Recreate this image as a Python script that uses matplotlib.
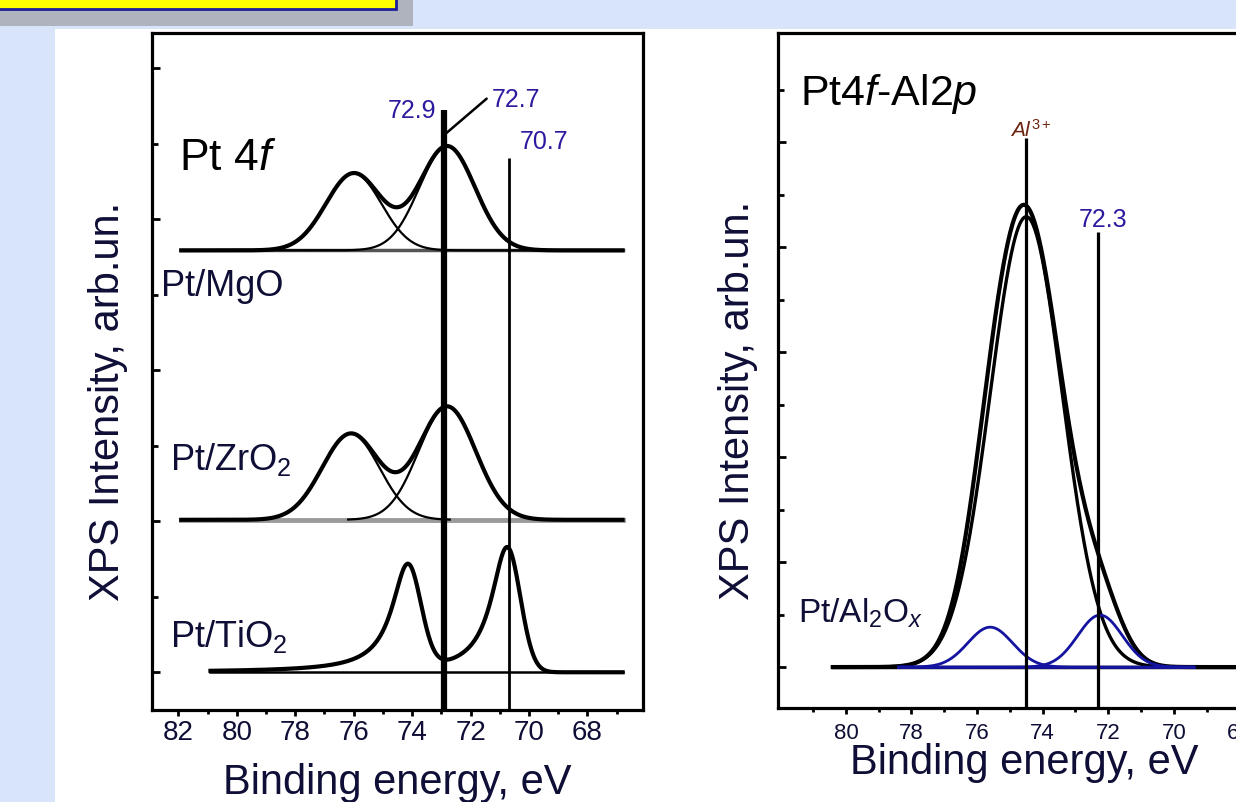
import matplotlib
matplotlib.use('Agg')
import matplotlib.pyplot as plt
from matplotlib.patches import Rectangle
import numpy as np

plt.rcParams['font.family'] = ['Liberation Sans', 'DejaVu Sans']
plt.rcParams['mathtext.fontset'] = 'custom'
plt.rcParams['mathtext.rm'] = 'Liberation Sans'
plt.rcParams['mathtext.it'] = 'Liberation Sans:italic'

TXT = '#0e0e36'
PEAK = '#2c1a9e'
BLUE = '#1414a0'

# ---- left panel: Pt 4f for Pt/MgO, Pt/ZrO2, Pt/TiO2 ----
left_lim = (82.9, 66.1)
left_ticks = [82, 80, 78, 76, 74, 72, 70, 68]

mgo_base = 6.09
mgo_pos = [72.8, 76.0]      # 4f7/2, 4f5/2
mgo_amp = [1.38, 1.02]
mgo_sig = 0.95

zro_base = 2.52
zro_pos = [72.8, 76.1]
zro_amp = [1.5, 1.14]
zro_sig = 0.98

tio_base = 0.5
tio_pos = [70.75, 74.15]
tio_amp = [1.66, 1.38]
tio_tail = 0.65     # lorentz half width, high BE side
tio_edge = 0.45     # gauss sigma, low BE side

left_marks = [72.9, 70.7]
left_mark_tops = [7.95, 7.32]

# ---- right panel: Pt4f-Al2p for Pt/Al2Ox ----
right_lim = (82.07, 66.0)
right_ticks = [80, 78, 76, 74, 72, 70, 68]

al_pos, al_amp, al_sig = 74.5, 8.58, 1.1
pt_al_pos = [72.25, 75.6]
pt_al_amp = [0.99, 0.76]
pt_al_sig = 0.68

right_marks = [74.5, 72.3]
right_mark_tops = [10.08, 8.29]


def gauss(x, c, a, s):
    return a * np.exp(-(x - c) ** 2 / (2 * s * s))


def pt_metal(x, c, a):
    # asymmetric line: lorentz tail to high BE, gaussian edge to low BE
    lor = a / (1 + ((x - c) / tio_tail) ** 2)
    gau = a * np.exp(-(x - c) ** 2 / (2 * tio_edge ** 2))
    return np.where(x > c, lor, gau)


W, H = 1236, 802
fig = plt.figure(figsize=(W / 100, H / 100), dpi=100)
fig.patch.set_facecolor('#d8e4fa')


def frect(x0, y0, x1, y1, **kw):
    # rectangle in pixel coords (top-left origin)
    return Rectangle((x0 / W, 1 - y1 / H), (x1 - x0) / W, (y1 - y0) / H,
                     transform=fig.transFigure, zorder=-5, **kw)


fig.patches.append(frect(55, 29, W, H, facecolor='white', edgecolor='none'))
fig.patches.append(frect(0, 0, 413, 26, facecolor='#aeb3bd', edgecolor='none'))
fig.patches.append(frect(-10, -10, 396, 9, facecolor='#ffff00', edgecolor='#1e1e9a', lw=2))


def style(ax, xlab_size, pad):
    for s in ax.spines.values():
        s.set_linewidth(2.3)
    ax.tick_params(axis='x', which='major', direction='out', length=4.5, width=2,
                   labelsize=xlab_size, labelcolor=TXT, pad=pad)
    ax.tick_params(axis='x', which='minor', direction='out', length=2.8, width=2)
    ax.tick_params(axis='y', which='major', direction='in', length=6, width=2, labelleft=False)
    ax.tick_params(axis='y', which='minor', direction='in', length=4, width=2)


# ================= left =================
ax = fig.add_axes([152 / W, 1 - 710 / H, (643 - 152) / W, (710 - 33) / H])
ax.set_xlim(*left_lim)
ax.set_ylim(0, 8.97)
ax.set_xticks(left_ticks)
ax.set_xticks([81, 79, 77, 75, 73, 71, 69, 67], minor=True)
ax.set_yticks([0.5, 2.5, 4.5, 6.5, 8.5])
ax.set_yticks([1.5, 3.5, 5.5, 7.5], minor=True)
style(ax, 20, 3)

e = np.linspace(81.9, 66.8, 900)

# Pt/MgO
ax.plot(e, np.full_like(e, mgo_base), color='#555555', lw=2.5)
comps = [gauss(e, c, a, mgo_sig) for c, a in zip(mgo_pos, mgo_amp)]
for cp in comps:
    ax.plot(e, mgo_base + cp, color='k', lw=1.6)
ax.plot(e, mgo_base + comps[0] + comps[1], color='k', lw=3)

# Pt/ZrO2
ax.plot(e, np.full_like(e, zro_base), color='#9a9a9a', lw=3.5)
comps = [gauss(e, c, a, zro_sig) for c, a in zip(zro_pos, zro_amp)]
m1 = e <= 76.2
m2 = e >= 72.7
ax.plot(e[m1], zro_base + comps[0][m1], color='k', lw=1.6)
ax.plot(e[m2], zro_base + comps[1][m2], color='k', lw=1.6)
ax.plot(e, zro_base + comps[0] + comps[1], color='k', lw=3)

# Pt/TiO2
et = np.linspace(80.9, 66.8, 900)
ax.plot(et, np.full_like(et, tio_base), color='k', lw=1.8)
env = sum(pt_metal(et, c, a) for c, a in zip(tio_pos, tio_amp))
ax.plot(et, tio_base + env, color='k', lw=3)

ax.vlines(left_marks[0], 0, left_mark_tops[0], color='k', lw=4.5)
ax.vlines(left_marks[1], 0, left_mark_tops[1], color='k', lw=2)
ax.annotate('', xy=(71.45, 8.1), xytext=(72.9, 7.62),
            arrowprops=dict(arrowstyle='-', color='k', lw=1.8, shrinkA=0, shrinkB=0))

ax.text(74.0, 7.84, '72.9', color=PEAK, fontsize=18, ha='center', va='baseline')
ax.text(71.28, 7.99, '72.7', color=PEAK, fontsize=18, ha='left', va='baseline')
ax.text(69.47, 7.43, '70.7', color=PEAK, fontsize=18, ha='center', va='baseline')

ax.text(81.97, 7.15, r'Pt 4$\mathit{f}$', color='k', fontsize=32, ha='left', va='baseline')
ax.text(82.6, 5.48, 'Pt/MgO', color=TXT, fontsize=26, ha='left', va='baseline')
ax.text(82.27, 3.18, r'Pt/ZrO$_2$', color=TXT, fontsize=26, ha='left', va='baseline')
ax.text(82.27, 0.83, r'Pt/TiO$_2$', color=TXT, fontsize=26, ha='left', va='baseline')

ax.set_xlabel('Binding energy, eV', fontsize=30, color=TXT)
ax.xaxis.set_label_coords(0.50, -0.108)
ax.xaxis.label.set_va('center')
ax.set_ylabel('XPS Intensity, arb.un.', fontsize=30, color=TXT)
ax.yaxis.set_label_coords(-0.0896, 0.456)
ax.yaxis.label.set_va('center')

# ================= right =================
ax2 = fig.add_axes([778 / W, 1 - 708 / H, 527 / W, (708 - 33) / H])
ax2.set_xlim(*right_lim)
ax2.set_ylim(-0.78, 12.08)
ax2.set_xticks(right_ticks)
ax2.set_xticks([81, 79, 77, 75, 73, 71, 69, 67], minor=True)
ax2.set_yticks([0, 2, 4, 6, 8, 10])
ax2.set_yticks([1, 3, 5, 7, 9, 11], minor=True)
style(ax2, 16, 6)

ea = np.linspace(80.4, 66.0, 900)
al = gauss(ea, al_pos, al_amp, al_sig)
pts = sum(gauss(ea, c, a, pt_al_sig) for c, a in zip(pt_al_pos, pt_al_amp))
ax2.plot(ea, np.zeros_like(ea), color='k', lw=2.5)
ax2.plot(ea, al, color='k', lw=2.4)
ax2.plot(ea, al + pts, color='k', lw=3)

eb = np.linspace(78.4, 69.4, 600)
ax2.plot(eb, np.zeros_like(eb), color=BLUE, lw=2)
for c, a in zip(pt_al_pos, pt_al_amp):
    ax2.plot(eb, gauss(eb, c, a, pt_al_sig), color=BLUE, lw=2)

ax2.vlines(right_marks[0], -0.78, right_mark_tops[0], color='k', lw=2.3)
ax2.vlines(right_marks[1], -0.78, right_mark_tops[1], color='k', lw=2.3)

ax2.text(74.35, 10.11, r'$\mathit{Al}^{3+}$', color='#6b2410', fontsize=15, ha='center', va='baseline')
ax2.text(72.16, 8.38, '72.3', color=PEAK, fontsize=18, ha='center', va='baseline')
ax2.text(81.4, 10.7, r'Pt4$\mathit{f}$-Al2$\mathit{p}$', color='k', fontsize=31, ha='left', va='baseline')
ax2.text(81.46, 0.84, r'Pt/Al$_2$O$_x$', color=TXT, fontsize=24, ha='left', va='baseline')

ax2.set_xlabel('Binding energy, eV', fontsize=30, color=TXT)
ax2.xaxis.set_label_coords(0.467, -0.081)
ax2.xaxis.label.set_va('center')
ax2.set_ylabel('XPS Intensity, arb.un.', fontsize=30, color=TXT)
ax2.yaxis.set_label_coords(-0.0759, 0.455)
ax2.yaxis.label.set_va('center')

fig.savefig('out.png', dpi=100, facecolor=fig.get_facecolor())
